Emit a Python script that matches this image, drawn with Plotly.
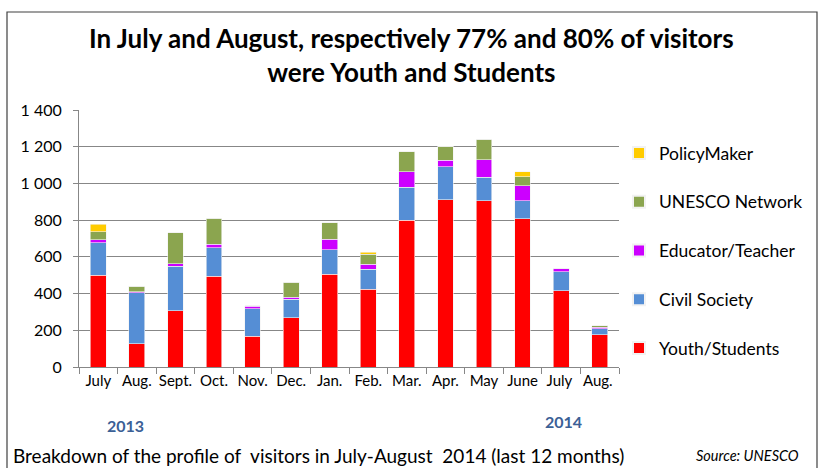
import plotly.graph_objects as go

# data
months = ['July', 'Aug.', 'Sept.', 'Oct.', 'Nov.', 'Dec.', 'Jan.', 'Feb.',
          'Mar.', 'Apr.', 'May', 'June', 'July ', 'Aug. ']
youth_students = [500, 127, 306, 495, 167, 268, 506, 423, 800, 912, 905, 807, 415, 176]
civil_society = [177, 277, 244, 154, 149, 102, 134, 110, 179, 180, 129, 100, 105, 33]
educator_teacher = [17, 6, 12, 20, 16, 9, 56, 27, 84, 34, 94, 80, 17, 7]
unesco_network = [43, 29, 169, 142, 2, 82, 91, 53, 110, 76, 112, 50, 0, 9]
policy_maker = [40, 0, 0, 0, 0, 0, 0, 13, 0, 0, 0, 28, 0, 0]

series = [
    ('Youth/Students', youth_students, '#FF0000'),
    ('Civil Society', civil_society, '#558ED5'),
    ('Educator/Teacher', educator_teacher, '#CC00FF'),
    ('UNESCO Network', unesco_network, '#8BA54F'),
    ('PolicyMaker', policy_maker, '#FFCC00'),
]

FONT = 'Lato'

fig = go.Figure()
for i, (name, vals, col) in enumerate(series):
    fig.add_trace(go.Bar(x=months, y=vals, name=name, legendgroup=name,
                         legendrank=len(series) - i,
                         marker=dict(color=col, line=dict(color='#F2F2F2', width=0.6))))

# plot area in pixels: x 79..619, y 110..367
def px_x(p):
    return (p - 79) / 540

def px_y(p):
    return (367 - p) / 257

fig.update_layout(
    width=820, height=468,
    margin=dict(l=79, r=201, t=110, b=101, autoexpand=False),
    barmode='stack', bargap=0.59,
    paper_bgcolor='white', plot_bgcolor='white',
    separators=', ',
    font=dict(family=FONT, color='black', size=14),
    showlegend=True,
    legend=dict(traceorder='grouped', tracegroupgap=23, itemsizing='constant',
                x=px_x(619), xanchor='left', y=px_y(135), yanchor='top',
                font=dict(size=17.5, family=FONT), bgcolor='rgba(0,0,0,0)'),
)
fig.update_yaxes(range=[0, 1400], dtick=200, tickformat=',d',
                 showgrid=True, gridcolor='#878787', gridwidth=1,
                 showline=True, linecolor='#878787', ticks='outside',
                 ticklen=5, tickcolor='#878787', tickfont=dict(size=16),
                 ticklabelstandoff=8)
fig.update_xaxes(tickson='boundaries', ticks='outside', ticklen=6,
                 tickcolor='#878787', showline=True, linecolor='#878787',
                 tickfont=dict(size=15), tickangle=0)

def note(text, x, y, size, xanchor='center', color='black'):
    fig.add_annotation(text=text, xref='paper', yref='paper', x=px_x(x), y=px_y(y),
                       xanchor=xanchor, yanchor='middle', showarrow=False, align='center',
                       font=dict(size=size, color=color, family=FONT))

# title
note('<b>In July and August, respectively 77% and 80% of visitors<br>were Youth and Students</b>', 411, 55, 26)
# year labels
note('<b>2013</b>', 125, 425, 16, color='#3B6096')
note('<b>2014</b>', 563, 421, 16, color='#3B6096')
# caption + source
note('Breakdown of the profile of  visitors in July-August  2014 (last 12 months)', 11, 455, 19, xanchor='left')
note('<i>Source: UNESCO</i>', 801, 455, 14.5, xanchor='right')

# frame around chart (open at the bottom)
fig.add_shape(type='path', xref='paper', yref='paper',
              path=f'M {px_x(7)},{px_y(480)} L {px_x(7)},{px_y(12)} L {px_x(817)},{px_y(12)} L {px_x(817)},{px_y(480)}',
              line=dict(color='#404040', width=1.2))

# drop the default page margin so the figure sits at the window's corner
fig.write_html("out.html", config={'displayModeBar': False},
               post_script="document.body.style.margin='0';")
